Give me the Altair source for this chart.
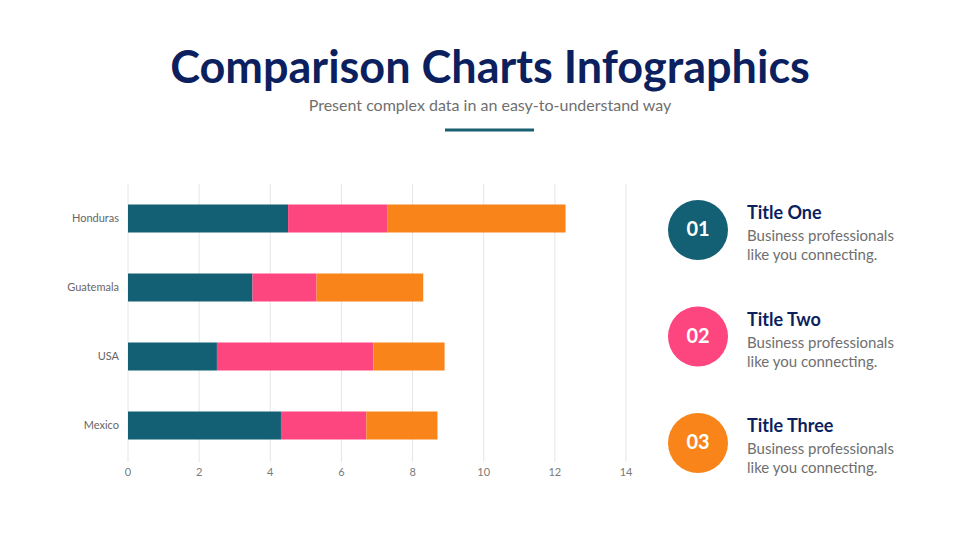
import altair as alt
import pandas as pd

# ---------------- data ----------------
countries = ["Honduras", "Guatemala", "USA", "Mexico"]
series_names = ["Title One", "Title Two", "Title Three"]
series_one = [4.5, 3.5, 2.5, 4.3]
series_two = [2.8, 1.8, 4.4, 2.4]
series_three = [5.0, 3.0, 2.0, 2.0]
series_colors = ["#135f73", "#fd4680", "#f8841a"]
x_ticks = [0, 2, 4, 6, 8, 10, 12, 14]

item_numbers = ["01", "02", "03"]
item_titles = ["Title One", "Title Two", "Title Three"]
body_line1 = ["Business professionals", "Business professionals", "Business professionals"]
body_line2 = ["like you connecting.", "like you connecting.", "like you connecting."]

main_title = "Comparison Charts Infographics"
sub_title = "Present complex data in an easy-to-understand way"

NAVY = "#0c1f5e"
GRAY = "#6f6f6f"
FONT = "Lato"

# ---------------- tables ----------------
rows = []
for i, c in enumerate(countries):
    for j, vals in enumerate([series_one, series_two, series_three]):
        rows.append({"country": c, "series": series_names[j], "value": vals[i], "order": j})
bars_df = pd.DataFrame(rows)
ticks_df = pd.DataFrame({"tick": x_ticks, "label": [str(t) for t in x_ticks]})
countries_df = pd.DataFrame({"country": countries})
panel_df = pd.DataFrame({
    "item": [1, 2, 3],
    "number": item_numbers,
    "title": item_titles,
    "line1": body_line1,
    "line2": body_line2,
    "color": series_colors,
})
header_df = pd.DataFrame({"title": [main_title], "subtitle": [sub_title]})

# ---------------- scales ----------------
xscale = alt.Scale(domain=[0, 14], range=[120, 618], nice=False, zero=False)
yscale = alt.Scale(domain=countries, range=[176, 452], paddingInner=0.594, paddingOuter=0.297)
iscale = alt.Scale(domain=[1, 3], range=[222, 435], nice=False, zero=False)

grid = alt.Chart(ticks_df).mark_rule(color="#e6e6e6", strokeWidth=1).encode(
    x=alt.X("tick:Q", scale=xscale, axis=None),
    y=alt.value(176),
    y2=alt.value(454),
)

bars = alt.Chart(bars_df).mark_bar().encode(
    x=alt.X("value:Q", stack="zero", scale=xscale, axis=None),
    y=alt.Y("country:N", scale=yscale, axis=None),
    color=alt.Color("series:N", scale=alt.Scale(domain=series_names, range=series_colors), legend=None),
    order=alt.Order("order:Q"),
)

xlabels = alt.Chart(ticks_df).mark_text(font=FONT, fontSize=11, color="#7a7a7a", baseline="middle").encode(
    x=alt.X("tick:Q", scale=xscale, axis=None),
    y=alt.value(465),
    text="label:N",
)

ylabels = alt.Chart(countries_df).mark_text(font=FONT, fontSize=11, color="#666666", align="right", baseline="middle").encode(
    x=alt.value(111),
    y=alt.Y("country:N", scale=yscale, axis=None),
    text="country:N",
)

circles = alt.Chart(panel_df).mark_circle(size=3600, opacity=1).encode(
    x=alt.value(690),
    y=alt.Y("item:Q", scale=iscale, axis=None),
    color=alt.Color("color:N", scale=None),
)

numbers = alt.Chart(panel_df).mark_text(font=FONT, fontSize=20, fontWeight="bold", color="white", baseline="middle").encode(
    x=alt.value(690),
    y=alt.Y("item:Q", scale=iscale, axis=None),
    text="number:N",
)

titles = alt.Chart(panel_df).mark_text(font=FONT, fontSize=18, fontWeight="bold", color=NAVY, align="left", baseline="alphabetic", dy=-11).encode(
    x=alt.value(739),
    y=alt.Y("item:Q", scale=iscale, axis=None),
    text="title:N",
)

line1 = alt.Chart(panel_df).mark_text(font=FONT, fontSize=15, color=GRAY, align="left", baseline="middle", dy=6).encode(
    x=alt.value(739),
    y=alt.Y("item:Q", scale=iscale, axis=None),
    text="line1:N",
)

line2 = alt.Chart(panel_df).mark_text(font=FONT, fontSize=15, color=GRAY, align="left", baseline="middle", dy=25).encode(
    x=alt.value(739),
    y=alt.Y("item:Q", scale=iscale, axis=None),
    text="line2:N",
)

head_title = alt.Chart(header_df).mark_text(font=FONT, fontSize=45, fontWeight="bold", color=NAVY, baseline="alphabetic").encode(
    x=alt.value(482), y=alt.value(75), text="title:N"
)
head_sub = alt.Chart(header_df).mark_text(font=FONT, fontSize=16, color=GRAY, baseline="middle").encode(
    x=alt.value(482), y=alt.value(98), text="subtitle:N"
)
underline = alt.Chart(header_df).mark_rule(color="#1b5f72", strokeWidth=3).encode(
    x=alt.value(437), x2=alt.value(526), y=alt.value(122)
)

chart = alt.layer(
    grid, bars, xlabels, ylabels, circles, numbers, titles, line1, line2, head_title, head_sub, underline
).resolve_scale(
    x="independent", y="independent", color="independent"
).properties(
    width=964, height=535, padding=0, autosize=alt.AutoSizeParams(type="none"), background="white"
).configure_view(stroke=None)

chart.save("out.html", embed_options={"renderer": "svg", "actions": False})
